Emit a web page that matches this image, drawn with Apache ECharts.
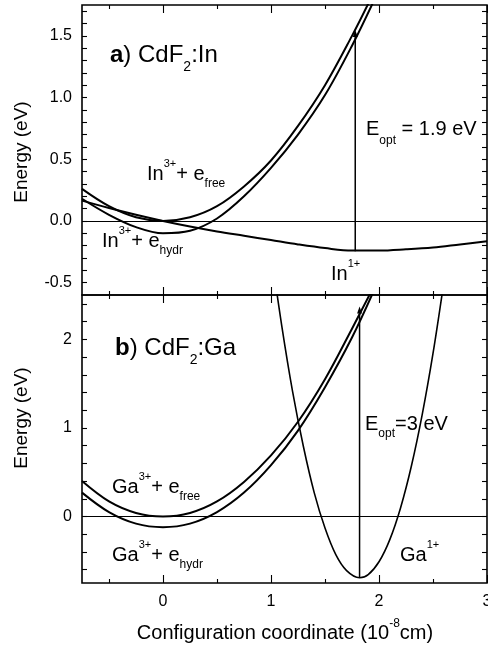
<!DOCTYPE html>
<html>
<head>
<meta charset="utf-8">
<script src="https://cdn.jsdelivr.net/npm/echarts@6/dist/echarts.min.js"></script>
<style>
  html, body { margin: 0; padding: 0; background: #fff; }
  #chart { width: 488px; height: 649px; }
</style>
</head>
<body>
<div id="chart"></div>
<script>
// ---- panel a) CdF2:In ----
const inFreeX = [-0.75, -0.5, -0.25, 0, 0.25, 0.5, 0.75, 1, 1.25, 1.5, 1.75, 1.9];
const inFreeE = [0.26, 0.12, 0.03, 0, 0.03, 0.12, 0.28, 0.49, 0.77, 1.10, 1.50, 1.76];
const inHydrX = [-0.75, -0.5, -0.25, 0, 0.25, 0.5, 0.75, 1, 1.25, 1.5, 1.75, 1.95];
const inHydrE = [0.18, 0.05, -0.05, -0.10, -0.08, 0.02, 0.20, 0.43, 0.70, 1.02, 1.42, 1.78];
const in1X = [-0.75, -0.5, -0.25, 0, 0.25, 0.5, 0.75, 1, 1.25, 1.5, 1.75, 2, 2.25, 2.5, 2.75, 3];
const in1E = [0.165, 0.105, 0.05, 0.0, -0.045, -0.085, -0.12, -0.155, -0.19, -0.22, -0.24, -0.24, -0.23, -0.215, -0.19, -0.165];
const inOptX = [1.78, 1.78];
const inOptE = [-0.245, 1.52];

// ---- panel b) CdF2:Ga ----
const gaFreeX = [-0.75, -0.5, -0.25, 0, 0.25, 0.5, 0.75, 1, 1.25, 1.5, 1.75, 1.92];
const gaFreeE = [0.40, 0.17, 0.04, 0, 0.04, 0.17, 0.39, 0.69, 1.07, 1.55, 2.12, 2.52];
const gaHydrX = [-0.75, -0.5, -0.25, 0, 0.25, 0.5, 0.75, 1, 1.25, 1.5, 1.75, 1.96];
const gaHydrE = [0.27, 0.05, -0.08, -0.12, -0.08, 0.05, 0.27, 0.58, 0.97, 1.46, 2.02, 2.57];
const ga1X = [1.0, 1.1, 1.2, 1.3, 1.4, 1.5, 1.6, 1.7, 1.82, 1.9, 2.0, 2.1, 2.2, 2.3, 2.4, 2.5, 2.6];
const ga1E = [2.99, 2.15, 1.41, 0.79, 0.27, -0.13, -0.43, -0.61, -0.69, -0.655, -0.51, -0.26, 0.10, 0.57, 1.15, 1.84, 2.64];
const gaOptX = [1.82, 1.82];
const gaOptE = [-0.69, 2.33];

// ---- axes ----
const xRange = [-0.75, 3];
const xMajorTicks = [0, 1, 2, 3];
const xMinorTicks = [-0.5, 0.5, 1.5, 2.5];
const xLabels = [0, 1, 2, 3];
const yRangeA = [-0.6, 1.75];
const yTicksA = [-0.5, -0.4, -0.3, -0.2, -0.1, 0, 0.1, 0.2, 0.3, 0.4, 0.5, 0.6, 0.7, 0.8, 0.9, 1.0, 1.1, 1.2, 1.3, 1.4, 1.5, 1.6, 1.7];
const yLabelsA = [-0.5, 0, 0.5, 1.0, 1.5];
const yRangeB = [-0.75, 2.5];
const yTicksB = [-0.6, -0.4, -0.2, 0, 0.2, 0.4, 0.6, 0.8, 1.0, 1.2, 1.4, 1.6, 1.8, 2.0, 2.2, 2.4];
const yLabelsB = [0, 1, 2];

const FONT = '"Liberation Sans", Arial, sans-serif';
const tickStyle = { color: '#000', width: 1.1 };

function pts(xs, ys) { return xs.map((x, i) => [x, ys[i]]); }

function xAxesFor(gridIndex, withLabels) {
  const base = {
    type: 'value', gridIndex, min: xRange[0], max: xRange[1],
    axisLine: { show: false, onZero: false }, splitLine: { show: false }, axisLabel: { show: false }
  };
  const major = { show: true, inside: true, length: 8, customValues: xMajorTicks, lineStyle: tickStyle };
  const minor = { show: true, inside: true, length: 4, customValues: xMinorTicks, lineStyle: tickStyle };
  return [
    Object.assign({}, base, {
      position: 'bottom', axisTick: major,
      axisLabel: withLabels ? {
        show: true, customValues: xLabels, margin: 11, color: '#000',
        fontFamily: FONT, fontSize: 16, formatter: v => String(v)
      } : { show: false }
    }),
    Object.assign({}, base, { position: 'bottom', axisTick: minor }),
    Object.assign({}, base, { position: 'top', axisTick: major }),
    Object.assign({}, base, { position: 'top', axisTick: minor })
  ];
}

function yAxesFor(gridIndex, range, ticks, labels, fmt) {
  const base = {
    type: 'value', gridIndex, min: range[0], max: range[1],
    axisLine: { show: false, onZero: false }, splitLine: { show: false },
    axisTick: { show: true, inside: true, length: 5, customValues: ticks, lineStyle: tickStyle }
  };
  return [
    Object.assign({}, base, {
      position: 'left',
      axisLabel: { show: true, customValues: labels, margin: 10, color: '#000', fontFamily: FONT, fontSize: 16, formatter: fmt }
    }),
    Object.assign({}, base, { position: 'right', axisLabel: { show: false } })
  ];
}

function curve(xs, ys, xi, yi, width, extra) {
  return Object.assign({
    type: 'line', xAxisIndex: xi, yAxisIndex: yi, data: pts(xs, ys),
    smooth: 0.35, symbol: 'none', silent: true,
    lineStyle: { color: '#000', width: width }
  }, extra || {});
}

// vertical E_opt transition with a small head at its upper end
function optLine(xs, ys, xi, yi) {
  const d = pts(xs, ys).map((p, i) => i === p.length - 1
    ? { value: p, symbol: 'triangle', symbolSize: [5, 7] }
    : { value: p, symbol: 'none' });
  return {
    type: 'line', xAxisIndex: xi, yAxisIndex: yi, data: d, silent: true,
    showSymbol: true, itemStyle: { color: '#000' },
    lineStyle: { color: '#000', width: 1.5 }
  };
}

const zeroMark = {
  markLine: {
    silent: true, symbol: 'none', label: { show: false },
    lineStyle: { color: '#000', width: 1.2, type: 'solid' },
    data: [{ yAxis: 0 }]
  }
};

// text helpers
const main = (size, lh) => ({ fontFamily: FONT, fontSize: size, lineHeight: lh, fill: '#000' });
const small = (size, va) => ({ fontFamily: FONT, fontSize: size, lineHeight: size, verticalAlign: va, fill: '#000' });
const labelRich = { m: main(20, 32), p: small(11, 'top'), s: small(12, 'bottom') };
const optRich = { m: main(20, 36), s: small(12, 'bottom') };
const titleRich = {
  b: Object.assign(main(24, 38), { fontWeight: 'bold' }),
  m: main(24, 38), s: small(14, 'bottom')
};

function txt(x, y, text, rich, extra) {
  return Object.assign({
    type: 'text', x: x, y: y, silent: true,
    style: { text: text, rich: rich, align: 'left', verticalAlign: 'middle', fill: '#000' }
  }, extra || {});
}

const myChart = echarts.init(document.getElementById('chart'));

const gridBase = {
  left: 82, width: 405, show: true, borderColor: '#000', borderWidth: 1.6,
  backgroundColor: 'transparent', containLabel: false, outerBoundsMode: 'none'
};

const option = {
  animation: false,
  backgroundColor: '#fff',
  grid: [
    Object.assign({}, gridBase, { top: 5, height: 290 }),
    Object.assign({}, gridBase, { top: 295, height: 288 })
  ],
  xAxis: xAxesFor(0, false).concat(xAxesFor(1, true)),
  yAxis: yAxesFor(0, yRangeA, yTicksA, yLabelsA, v => v.toFixed(1))
    .concat(yAxesFor(1, yRangeB, yTicksB, yLabelsB, v => String(v))),
  series: [
    curve(inFreeX, inFreeE, 0, 0, 2),
    curve(inHydrX, inHydrE, 0, 0, 2, zeroMark),
    curve(in1X, in1E, 0, 0, 2),
    optLine(inOptX, inOptE, 0, 0),
    curve(gaFreeX, gaFreeE, 4, 2, 2),
    curve(gaHydrX, gaHydrE, 4, 2, 2, zeroMark),
    curve(ga1X, ga1E, 4, 2, 1.6),
    optLine(gaOptX, gaOptE, 4, 2)
  ],
  graphic: [
    txt(110, 55, '{b|a}{m|) CdF}{s|2}{m|:In}', titleRich),
    txt(147, 174, '{m|In}{p|3+}{m|+ e}{s|free}', labelRich),
    txt(102, 241, '{m|In}{p|3+}{m|+ e}{s|hydr}', labelRich),
    txt(331, 274, '{m|In}{p|1+}', labelRich),
    txt(366, 129, '{m|E}{s|opt}{m| = 1.9 eV}', optRich),
    txt(115, 348, '{b|b}{m|) CdF}{s|2}{m|:Ga}', titleRich),
    txt(112, 487, '{m|Ga}{p|3+}{m|+ e}{s|free}', labelRich),
    txt(112, 555, '{m|Ga}{p|3+}{m|+ e}{s|hydr}', labelRich),
    txt(400, 555, '{m|Ga}{p|1+}', labelRich),
    txt(365, 424, '{m|E}{s|opt}{m|=3 eV}', labelRich),
    txt(22, 152, 'Energy (eV)', null, {
      rotation: Math.PI / 2,
      style: { text: 'Energy (eV)', font: '19px ' + FONT, align: 'center', verticalAlign: 'middle', fill: '#000' }
    }),
    txt(22, 418, 'Energy (eV)', null, {
      rotation: Math.PI / 2,
      style: { text: 'Energy (eV)', font: '19px ' + FONT, align: 'center', verticalAlign: 'middle', fill: '#000' }
    }),
    txt(285, 633, '', null, {
      style: {
        text: '{m|Configuration coordinate (10}{p|-8}{m|cm)}',
        rich: { m: main(20, 30), p: small(12, 'top') },
        align: 'center', verticalAlign: 'middle', fill: '#000'
      }
    })
  ]
};

myChart.setOption(option);
</script>
</body>
</html>
